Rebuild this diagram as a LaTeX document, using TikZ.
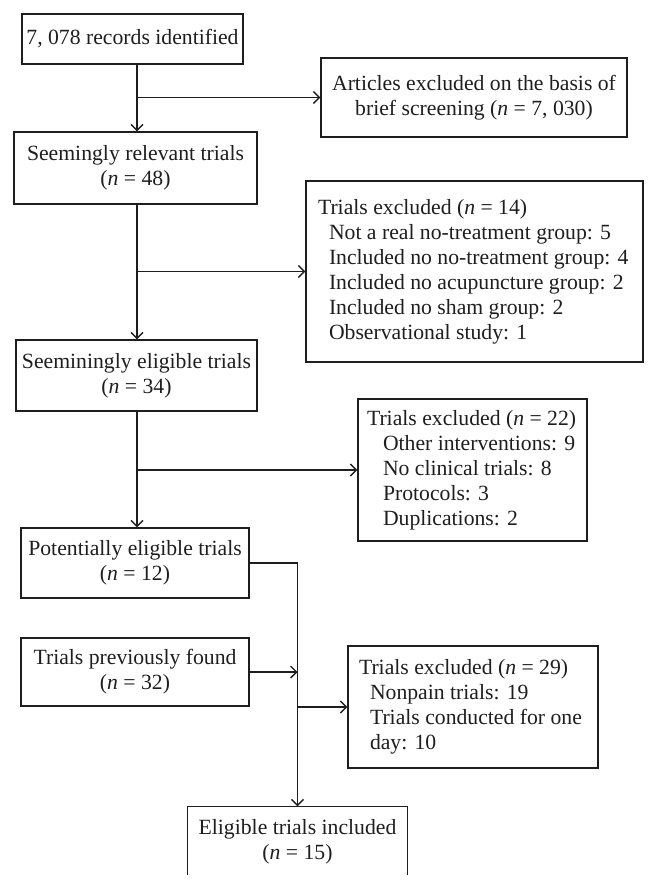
\documentclass[tikz,border=0pt]{standalone}
\usepackage{fontspec}
\setmainfont{Liberation Serif}
\usetikzlibrary{arrows.meta}
\definecolor{ink}{RGB}{30,30,30}
\begin{document}
\begin{tikzpicture}[x=1pt,y=-1pt,
  box/.style={draw=ink, line width=1.4pt, inner sep=0pt, text=ink,
    font=\fontsize{21.7}{25}\selectfont},
  cbox/.style={box, align=center},
  arr/.style={draw=ink, line width=1.4pt,
    -{Straight Barb[length=6pt,width=12pt,line width=1.4pt]}},
  ln/.style={draw=ink, line width=1.4pt}]
\useasboundingbox (0,0) rectangle (658,889);

\coordinate (t1) at (137,0);

\node[cbox, minimum width=221pt, minimum height=50pt] (A) at (132.5,39)
  {7, 078 records identified};
\node[cbox, minimum width=243pt, minimum height=72pt] (B) at (135.5,168)
  {Seemingly relevant trials\\(\textit{n} = 48)};
\node[cbox, minimum width=306pt, minimum height=79pt] (C) at (474,97.5)
  {Articles excluded on the basis of\\brief screening (\textit{n} = 7, 030)};
\node[box, minimum width=337pt, minimum height=181pt] (D) at (474.5,271.5)
  {\makebox[337pt][l]{\hspace*{12pt}\begin{tabular}{@{}l@{}}
   Trials excluded (\textit{n} = 14)\\
   \hspace*{11pt}Not a real no-treatment group: 5\\
   \hspace*{11pt}Included no no-treatment group: 4\\
   \hspace*{11pt}Included no acupuncture group: 2\\
   \hspace*{11pt}Included no sham group: 2\\
   \hspace*{11pt}Observational study: 1
   \end{tabular}}};
\node[cbox, minimum width=241pt, minimum height=71pt] (E) at (136.5,375.5)
  {Seeminingly eligible trials\\(\textit{n} = 34)};
\node[box, minimum width=229pt, minimum height=142pt] (J) at (472.5,470)
  {\makebox[229pt][l]{\hspace*{9pt}\begin{tabular}{@{}l@{}}
   Trials excluded (\textit{n} = 22)\\
   \hspace*{16pt}Other interventions: 9\\
   \hspace*{16pt}No clinical trials: 8\\
   \hspace*{16pt}Protocols: 3\\
   \hspace*{16pt}Duplications: 2
   \end{tabular}}};
\node[cbox, minimum width=228pt, minimum height=70pt] (F) at (135,563)
  {Potentially eligible trials\\(\textit{n} = 12)};
\node[cbox, minimum width=228pt, minimum height=68pt] (G) at (135,672)
  {Trials previously found\\(\textit{n} = 32)};
\node[box, minimum width=250pt, minimum height=122pt] (H) at (473,707)
  {\makebox[250pt][l]{\hspace*{11pt}\begin{tabular}{@{}l@{}}
   Trials excluded (\textit{n} = 29)\\
   \hspace*{11pt}Nonpain trials: 19\\
   \hspace*{11pt}Trials conducted for one\\
   \hspace*{11pt}day: 10
   \end{tabular}}};
\node[cbox, draw=none, minimum width=219pt, minimum height=69pt] (I) at (297.5,841.5)
  {Eligible trials included\\(\textit{n} = 15)};
\draw[ln] ([yshift=2pt]I.south west) -- (I.north west) -- (I.north east)
  -- ([yshift=2pt]I.south east);

\draw[arr] (A.south -| t1) -- (B.north -| t1);
\draw[arr] (C.west -| t1) -- (C.west);
\draw[arr] (B.south -| t1) -- (E.north -| t1);
\draw[arr] (D.west -| t1) -- (D.west);
\draw[arr] (E.south -| t1) -- (F.north -| t1);
\draw[arr] (J.west -| t1) -- (J.west);
\draw[arr] (F.east) -| (I.north);
\draw[arr] (G.east) -- (G.east -| I.north);
\draw[arr] (H.west -| I.north) -- (H.west);
\end{tikzpicture}
\end{document}
